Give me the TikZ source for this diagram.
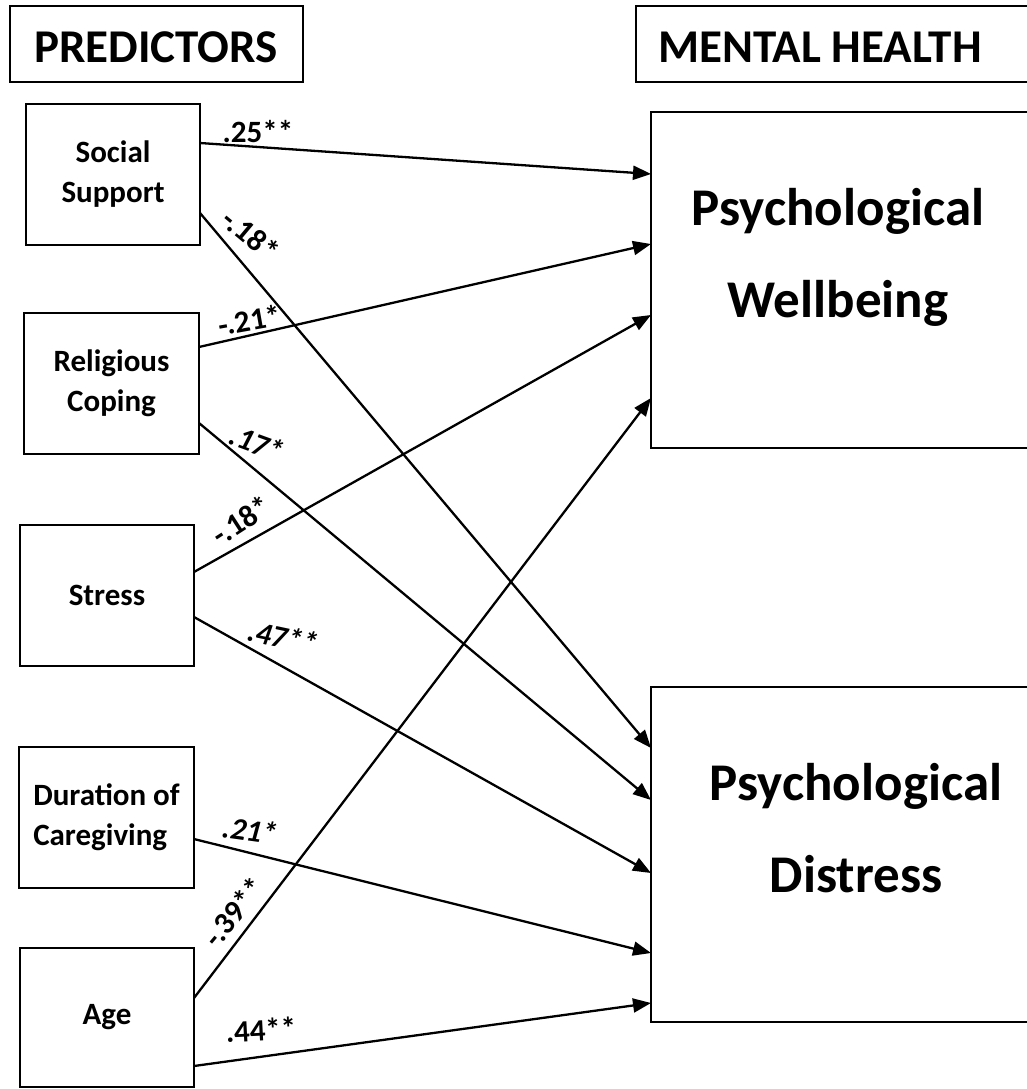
\documentclass[tikz,border=0pt]{standalone}
\usepackage{fontspec}
\setmainfont{Carlito}
\usetikzlibrary{arrows.meta}
\begin{document}
\begin{tikzpicture}[x=1pt,y=-1pt,
  box/.style={draw,line width=2.4pt,inner sep=0pt,outer sep=0pt,
    font=\bfseries\fontsize{31}{40}\selectfont,align=center},
  title/.style={font=\bfseries\fontsize{47}{47}\selectfont,inner sep=0pt},
  big/.style={font=\bfseries\fontsize{53}{92}\selectfont,align=center,inner sep=0pt},
  coef/.style={font=\bfseries\fontsize{31}{31}\selectfont,inner sep=0pt},
  link/.style={line width=2.3pt,-{Triangle[length=18pt,width=14pt]}}
]
\useasboundingbox (0,0) rectangle (1027,1089);

% headers
\node[box,minimum width=293pt,minimum height=76pt] (pred) at (156.5,44) {};
\node[title,anchor=base] (predt) at (156,63) {PREDICTORS};
\node[box,minimum width=400pt,minimum height=76pt] (mh) at (836,44) {};
\node[title,anchor=base] (mht) at (820,63) {MENTAL HEALTH};

% predictors
\node[box,minimum width=174pt,minimum height=141pt] (ss) at (113,174.5) {Social\\Support};
\node[box,minimum width=175pt,minimum height=141pt] (rc) at (111.5,383.5) {Religious\\Coping};
\node[box,minimum width=174pt,minimum height=141pt] (st) at (107,595.5) {Stress};
\node[box,minimum width=175pt,minimum height=141pt,align=left] (dc) at (106.5,817.5) {Duration of\\Caregiving};
\node[box,minimum width=174pt,minimum height=139pt] (ag) at (107,1017.5) {Age};

% outcomes
\node[box,minimum width=381pt,minimum height=336pt] (pw) at (841.5,280) {};
\node[big,anchor=base] (pwt) at (838,317) {Psychological\\Wellbeing};
\node[box,minimum width=381pt,minimum height=335pt] (pd) at (841.5,854.5) {};
\node[big,anchor=base] (pdt) at (856,892) {Psychological\\Distress};

% paths
\draw[link] ([yshift=31.5pt]ss.east) -- ([yshift=106pt]pw.west);
\draw[link] ([yshift=-38.5pt]ss.east) -- ([yshift=106.5pt]pd.west);
\draw[link] ([yshift=36.5pt]rc.east) -- ([yshift=36pt]pw.west);
\draw[link] ([yshift=-39.5pt]rc.east) -- ([yshift=54.5pt]pd.west);
\draw[link] ([yshift=23.5pt]st.east) -- ([yshift=-35pt]pw.west);
\draw[link] ([yshift=-21.5pt]st.east) -- ([yshift=-18.5pt]pd.west);
\draw[link] ([yshift=-21.5pt]dc.east) -- ([yshift=-98.5pt]pd.west);
\draw[link] ([yshift=19.5pt]ag.east) -- ([yshift=-118pt]pw.west);
\draw[link] ([yshift=-48.5pt]ag.east) -- ([yshift=-148.5pt]pd.west);

% coefficients
\node[coef] (c1) at (258,132) {.25**};
\node[coef,rotate=-40] (c2) at (251,235) {-.18*};
\node[coef,rotate=10] (c3) at (250,320) {-.21*};
\node[coef,rotate=-20] (c4) at (257,443) {\itshape .17*};
\node[coef,rotate=33] (c5) at (241,520) {-.18*};
\node[coef,rotate=-12] (c6) at (283,637) {\itshape .47**};
\node[coef,rotate=-8] (c7) at (250,830) {\itshape .21*};
\node[coef,rotate=50] (c8) at (234,912) {-.39**};
\node[coef,rotate=3] (c9) at (261,1030) {.44**};
\end{tikzpicture}
\end{document}
